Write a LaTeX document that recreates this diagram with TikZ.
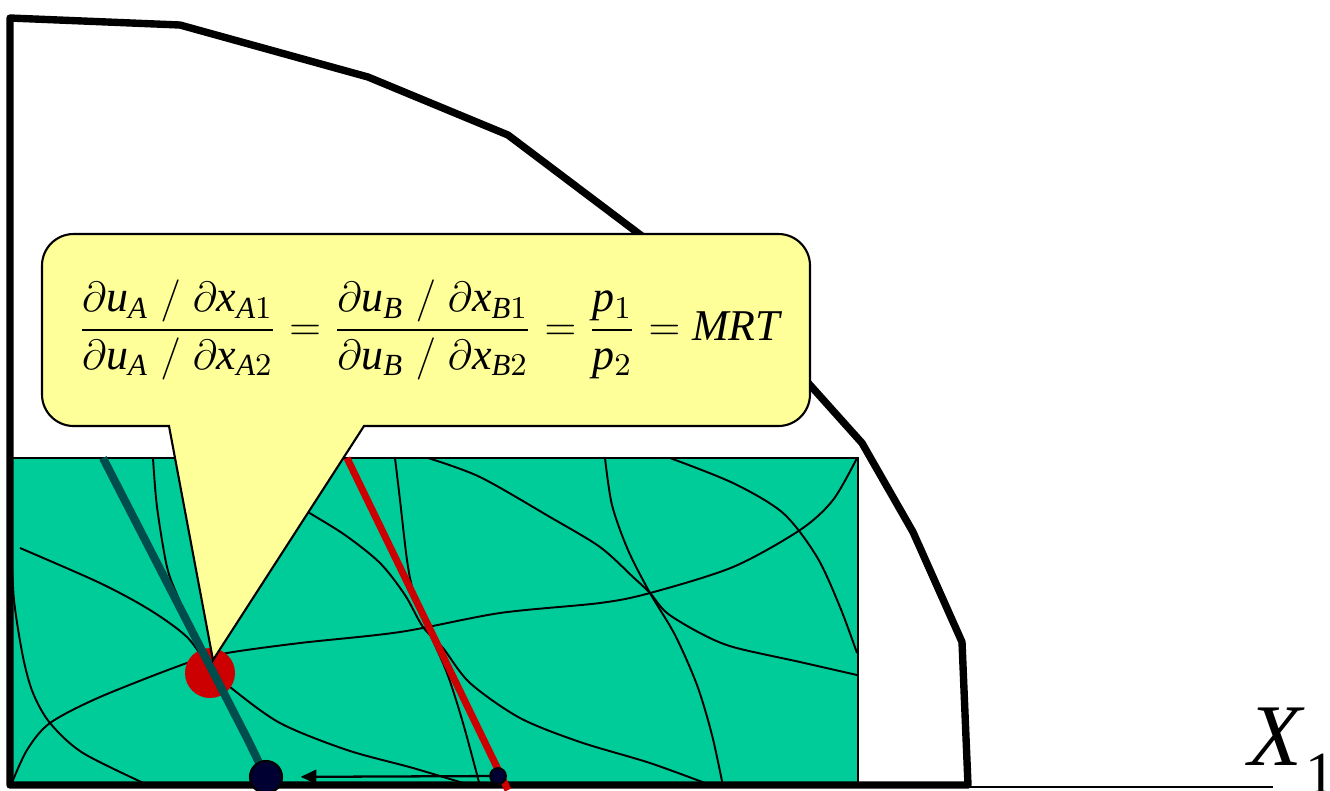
\documentclass[tikz,border=0pt]{standalone}
\usepackage{amsmath}
\usepackage{fontspec}
\setmainfont{Liberation Serif}
\usetikzlibrary{arrows.meta}

\definecolor{boxgreen}{HTML}{00CC99}
\definecolor{bubbleyellow}{HTML}{FFFF99}
\definecolor{optred}{HTML}{CC0000}
\definecolor{pricedark}{HTML}{004D4D}
\definecolor{dotnavy}{HTML}{000033}

\begin{document}
\begin{tikzpicture}[>={Triangle[length=4.5pt, width=4pt]}, x=0.01cm, y=-0.01cm,
    frontier/.style={line width=2.1pt, line join=round},
    indiff/.style={line width=0.55pt},
    bubble/.style={draw, fill=bubbleyellow, line width=0.6pt},
    bigdot/.style={circle, draw, fill=dotnavy, inner sep=0pt, minimum size=0.32cm, line width=0.6pt},
    smalldot/.style={circle, draw, fill=dotnavy, inner sep=0pt, minimum size=0.16cm, line width=0.5pt}]
  \useasboundingbox (0,0) rectangle (1330,790);
  % Edgeworth box
  \draw[fill=boxgreen, line width=0.7pt] (10,458) rectangle (858,785);
  % Indifference curves and contract curve
  \begin{scope}
    \clip (10,458) rectangle (858,785);
    \draw[indiff] plot[smooth] coordinates {(11,540) (14,600) (23,657) (33,693) (50,723) (83,753) (150,786)};
    \draw[indiff] plot[smooth] coordinates {(20,548) (100,583) (150,610) (187,637) (210,668) (230,687) (280,723) (347,750) (413,768) (473,786)};
    \draw[indiff] plot[smooth] coordinates {(11,785) (27,750) (50,723) (100,697) (187,663) (227,653) (300,643) (400,632) (500,613) (600,603) (650,593) (733,567) (800,530) (833,500) (857,458)};
    \draw[indiff] plot[smooth] coordinates {(153,458) (157,507) (167,567) (178,597) (192,630)};
    \draw[indiff] plot[smooth] coordinates {(265,485) (308,512) (345,535) (380,563) (405,595) (423,627) (443,648) (470,683) (520,718) (580,742) (650,763) (713,786)};
    \draw[indiff] plot[smooth] coordinates {(395,458) (400,500) (407,560) (413,590) (427,627) (447,673) (463,723) (480,786)};
    \draw[indiff] plot[smooth] coordinates {(428,458) (480,477) (550,517) (600,547) (633,577) (650,593) (667,613) (700,633) (733,647) (800,662) (857,675)};
    \draw[indiff] plot[smooth] coordinates {(605,458) (612,505) (628,550) (650,593) (675,635) (697,685) (712,735) (723,786)};
    \draw[indiff] plot[smooth] coordinates {(670,458) (733,483) (783,513) (817,557) (840,607) (857,653)};
  \end{scope}
  % Axis to the right
  \draw[line width=0.6pt] (968,787) -- (1273,787);
  % Production possibility frontier
  \draw[frontier] (10,785) -- (10,18) -- (180,25) -- (368,77) -- (508,135)
    -- (740,310) -- (810,385) -- (862,443) -- (913,532) -- (962,642) -- (968,785) -- cycle;
  % Optimum and price lines
  \coordinate (eApos) at (266,777);
  \coordinate (eBpos) at (498,776);
  \fill[optred] (210,673) circle (25);
  \draw[pricedark, line width=2.3pt, line join=round] (103,458) -- (248,740) -- (eApos);
  \draw[optred, line width=2pt] (347,458) -- (508,790);
  \node[bigdot] (eA) at (eApos) {};
  \node[smalldot] (eB) at (eBpos) {};
  \draw[->, line width=0.65pt, shorten >=5pt] (eB) -- (eA);
  % Callout with the condition
  \draw[bubble] (600,426) [rounded corners=9pt] -- (810,426) -- (810,234) -- (42,234)
    -- (42,426) [sharp corners] -- (169,426) -- (213,660) -- (364,426) -- cycle;
  \node[font=\fontsize{12.5}{15}\selectfont] (mrs) at (429,330)
    {$\dfrac{\partial\mathit{u}_{\mathit{A}}\;/\;\partial\mathit{x}_{\mathit{A}1}}{\partial\mathit{u}_{\mathit{A}}\;/\;\partial\mathit{x}_{\mathit{A}2}}
     =\dfrac{\partial\mathit{u}_{\mathit{B}}\;/\;\partial\mathit{x}_{\mathit{B}1}}{\partial\mathit{u}_{\mathit{B}}\;/\;\partial\mathit{x}_{\mathit{B}2}}
     =\dfrac{\mathit{p}_{1}}{\mathit{p}_{2}}=\mathit{MRT}$};
  % Axis label
  \node[anchor=base west, inner sep=0pt] (xone) at (1248,765)
    {\fontsize{25}{25}\selectfont\textit{X}\raisebox{-8pt}{\fontsize{17}{17}\selectfont 1}};
\end{tikzpicture}
\end{document}
